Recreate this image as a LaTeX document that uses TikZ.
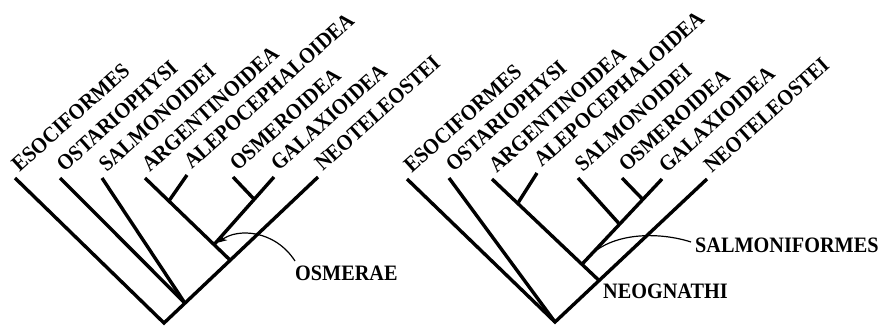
\documentclass[tikz,border=0pt]{standalone}
\usepackage{fontspec}
\setmainfont{Liberation Serif}
\newfontfamily\labelfamily{Liberation Serif}[FakeStretch=0.92]
\usetikzlibrary{arrows.meta,calc}
\begin{document}
\begin{tikzpicture}[x=1pt,y=-1pt,
  branch/.style={line width=3.4pt},
  pointer/.style={line width=1.2pt},
  labelfont/.style={font=\labelfamily\fontsize{22}{26}\selectfont\bfseries},
  taxon/.style={labelfont,rotate=42,anchor=base west,inner sep=0pt},
  grouplabel/.style={labelfont,anchor=base west,inner sep=0pt},
  % taxon names start just beside the end of their branch
  lift/.style={shift={(4.6,-5)}}]
\useasboundingbox (0,0) rectangle (880,325);

% ---------- left cladogram ----------
\coordinate (Lroot) at (164,323);
\coordinate (Lesoc) at (15,178);
\coordinate (Lostar) at (60,178);
\coordinate (Lsalm) at (102,178);
\coordinate (Largen) at (145,178);
\coordinate (Lalepo) at (187,175);
\coordinate (Losmer) at (233,177);
\coordinate (Lgalax) at (274,177);
\coordinate (Lneot) at (318,177);
\coordinate (LnA) at ($(Lroot)!0.136!(Lneot)$);
\coordinate (LnB) at ($(Lroot)!0.43!(Lneot)$);
\coordinate (LnAlep) at ($(Largen)!0.28!(LnB)$);
\coordinate (LnOsmerae) at ($(Largen)!0.81!(LnB)$);
\coordinate (LnOsm) at ($(Lgalax)!0.33!(LnOsmerae)$);

\draw[branch] (Lesoc) -- (Lroot) -- (Lneot);
\draw[branch] (Lostar) -- (LnA);
\draw[branch] (Lsalm) -- (LnA);
\draw[branch] (Largen) -- (LnB);
\draw[branch] (Lalepo) -- (LnAlep);
\draw[branch] (Lgalax) -- (LnOsmerae);
\draw[branch] (Losmer) -- (LnOsm);

\node[taxon] (tLesoc) at ([lift]Lesoc) {ESOCIFORMES};
\node[taxon] (tLostar) at ([lift]Lostar) {OSTARIOPHYSI};
\node[taxon] (tLsalm) at ([lift]Lsalm) {SALMONOIDEI};
\node[taxon] (tLargen) at ([lift]Largen) {ARGENTINOIDEA};
\node[taxon] (tLalepo) at ([lift]Lalepo) {ALEPOCEPHALOIDEA};
\node[taxon] (tLosmer) at ([lift]Losmer) {OSMEROIDEA};
\node[taxon] (tLgalax) at ([lift]Lgalax) {GALAXIOIDEA};
\node[taxon] (tLneot) at ([lift]Lneot) {NEOTELEOSTEI};

\node[grouplabel] (osmerae) at (295,280) {OSMERAE};
\coordinate (osmeraeTail) at (295,261);
\coordinate (osmeraeTip) at ($(LnOsmerae)+(4,-2)$);
\draw[pointer,-{Stealth[length=9pt,width=7pt]}] (osmeraeTail)
  .. controls (275,230) and (238,228) .. (osmeraeTip);

% ---------- right cladogram ----------
\coordinate (Rroot) at (555,322);
\coordinate (Resoc) at (407,179);
\coordinate (Rostar) at (449,178);
\coordinate (Rargen) at (492,179);
\coordinate (Ralepo) at (537,173);
\coordinate (Rsalm) at (578,178);
\coordinate (Rosmer) at (622,178);
\coordinate (Rgalax) at (662,179);
\coordinate (Rneot) at (707,179);
\coordinate (RnNeog) at ($(Rroot)!0.29!(Rneot)$);
\coordinate (RnAlep) at ($(Rargen)!0.24!(RnNeog)$);
\coordinate (RnSalmf) at ($(Rargen)!0.84!(RnNeog)$);
\coordinate (RnSalm) at ($(Rgalax)!0.53!(RnSalmf)$);
\coordinate (RnOsm) at ($(Rgalax)!0.24!(RnSalmf)$);
\coordinate (RsalmfEnd) at ($(Rgalax)!0.89!(RnSalmf)$);

\draw[branch] (Resoc) -- (Rroot) -- (Rneot);
\draw[branch] (Rostar) -- (Rroot);
\draw[branch] (Rargen) -- (RnNeog);
\draw[branch] (Ralepo) -- (RnAlep);
\draw[branch] (Rgalax) -- (RnSalmf);
\draw[branch] (Rsalm) -- (RnSalm);
\draw[branch] (Rosmer) -- (RnOsm);

\node[taxon] (tResoc) at ([lift]Resoc) {ESOCIFORMES};
\node[taxon] (tRostar) at ([lift]Rostar) {OSTARIOPHYSI};
\node[taxon] (tRargen) at ([lift]Rargen) {ARGENTINOIDEA};
\node[taxon] (tRalepo) at ([lift]Ralepo) {ALEPOCEPHALOIDEA};
\node[taxon] (tRsalm) at ([lift]Rsalm) {SALMONOIDEI};
\node[taxon] (tRosmer) at ([lift]Rosmer) {OSMEROIDEA};
\node[taxon] (tRgalax) at ([lift]Rgalax) {GALAXIOIDEA};
\node[taxon] (tRneot) at ([lift]Rneot) {NEOTELEOSTEI};

\node[grouplabel] (salmoniformes) at (695,252) {SALMONIFORMES};
\node[grouplabel] (neognathi) at (603,298) {NEOGNATHI};
\coordinate (salmfTail) at (691,242);
\draw[pointer] (salmfTail) .. controls (660,232) and (615,232) .. (RsalmfEnd);
\end{tikzpicture}
\end{document}
